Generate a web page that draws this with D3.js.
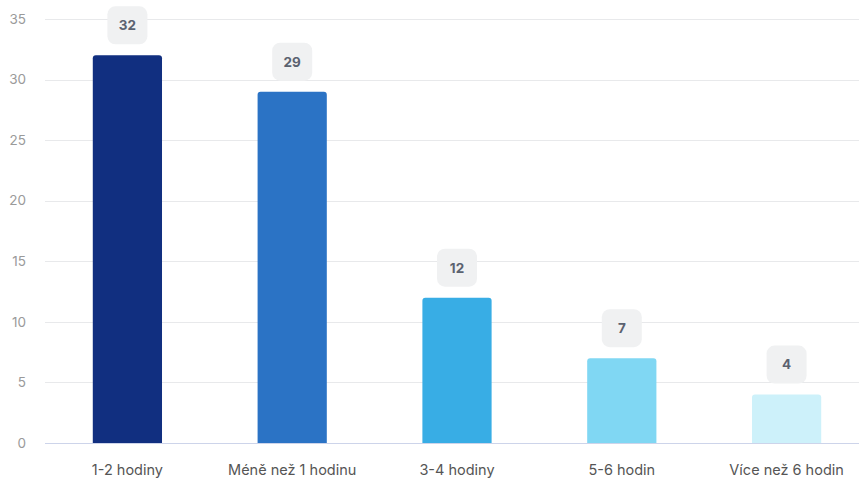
<!DOCTYPE html>
<html>
<head>
<meta charset="utf-8">
<script src="https://cdn.jsdelivr.net/npm/d3@7"></script>
<style>
  html, body { margin: 0; padding: 0; background: #fff; }
  svg { display: block; font-family: Inter, "Noto Sans", sans-serif; }
</style>
</head>
<body>
<svg id="chart" width="859" height="482"></svg>
<script>
// Categories and values
const categories = ["1-2 hodiny", "Méně než 1 hodinu", "3-4 hodiny", "5-6 hodin", "Více než 6 hodin"];
const values = [32, 29, 12, 7, 4];
const barColors = ["#112f80", "#2b73c5", "#38ade5", "#80d7f3", "#cdf1fa"];
const yTicks = [0, 5, 10, 15, 20, 25, 30, 35];

(function () {
  const svg = d3.select("#chart");
  const W = 859;
  const plotLeft = 45, plotRight = 869, plotTop = 19, plotBottom = 443;

  const x = d3.scaleBand().domain(categories).range([plotLeft, plotRight]).padding(0);
  const y = d3.scaleLinear().domain([0, 35]).range([plotBottom, plotTop]);
  const barW = x.bandwidth() * 0.42;
  const cx = c => x(c) + x.bandwidth() / 2;

  // Gridlines
  svg.append("g").selectAll("line")
    .data(yTicks.filter(t => t > 0))
    .join("line")
    .attr("x1", plotLeft).attr("x2", W)
    .attr("y1", d => Math.round(y(d)) + 0.5).attr("y2", d => Math.round(y(d)) + 0.5)
    .attr("stroke", "#e8e9eb").attr("stroke-width", 1);

  // Y tick labels
  svg.append("g").selectAll("text")
    .data(yTicks)
    .join("text")
    .attr("x", 26).attr("y", d => y(d))
    .attr("dy", "0.35em")
    .attr("text-anchor", "end")
    .attr("fill", "#9a9a9a")
    .attr("font-size", 13.5)
    .text(d => d);

  // Bars with rounded top corners
  function barPath(x0, y0, w, h, r) {
    return `M${x0},${y0 + h}V${y0 + r}Q${x0},${y0} ${x0 + r},${y0}H${x0 + w - r}Q${x0 + w},${y0} ${x0 + w},${y0 + r}V${y0 + h}Z`;
  }
  svg.append("g").selectAll("path")
    .data(values)
    .join("path")
    .attr("d", (d, i) => barPath(cx(categories[i]) - barW / 2, y(d), barW, plotBottom - y(d), 3))
    .attr("fill", (d, i) => barColors[i]);

  // Baseline
  svg.append("line")
    .attr("x1", plotLeft).attr("x2", W)
    .attr("y1", plotBottom + 0.5).attr("y2", plotBottom + 0.5)
    .attr("stroke", "#cdd4ea").attr("stroke-width", 1);

  // Value badges
  const badges = svg.append("g").selectAll("g")
    .data(values)
    .join("g")
    .attr("transform", (d, i) => `translate(${cx(categories[i])},${y(d) - 30})`);
  badges.append("rect")
    .attr("x", -20).attr("y", -19).attr("width", 40).attr("height", 38)
    .attr("rx", 8)
    .attr("fill", "#f0f1f2");
  badges.append("text")
    .attr("text-anchor", "middle")
    .attr("dy", "0.36em")
    .attr("font-size", 13.5)
    .attr("font-weight", 700)
    .attr("fill", "#5b6270")
    .text(d => d);

  // X labels
  svg.append("g").selectAll("text")
    .data(categories)
    .join("text")
    .attr("x", d => cx(d))
    .attr("y", 470)
    .attr("dy", "0.35em")
    .attr("text-anchor", "middle")
    .attr("fill", "#555")
    .attr("font-size", 14.5)
    .text(d => d);
})();
</script>
</body>
</html>
